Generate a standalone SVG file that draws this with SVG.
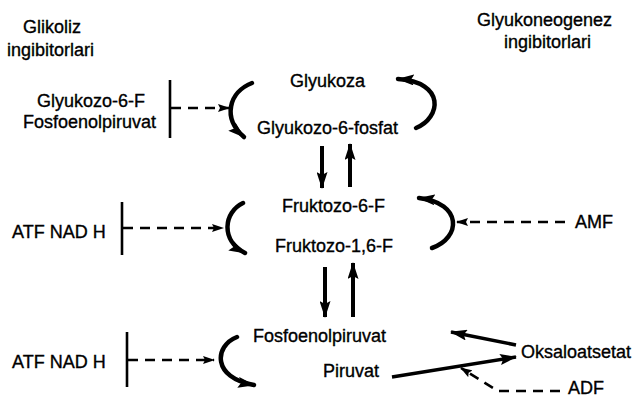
<svg xmlns="http://www.w3.org/2000/svg" width="643" height="398" viewBox="0 0 643 398">
<style>
text{font-family:"Liberation Sans",Arial,sans-serif;font-size:18px;fill:#000;stroke:#000;stroke-width:0.35}
.arc{fill:none;stroke:#000;stroke-width:4.5;stroke-linecap:round}
.v{fill:none;stroke:#000;stroke-width:4}
.d{fill:none;stroke:#000;stroke-width:2.6;stroke-dasharray:10 7}
.bar{fill:none;stroke:#000;stroke-width:2.6}
.s{fill:none;stroke:#000;stroke-width:3.5}
</style>
<defs>
<marker id="ah" markerUnits="userSpaceOnUse" markerWidth="18" markerHeight="11" refX="16" refY="5.5" orient="auto">
<path d="M0,0 L17,5.5 L0,11 L3,5.5 z" fill="#000"/>
</marker>
<marker id="ahs" markerUnits="userSpaceOnUse" markerWidth="12" markerHeight="8" refX="11" refY="4" orient="auto">
<path d="M0,0 L12,4 L0,8 L2,4 z" fill="#000"/>
</marker>
</defs>
<rect width="643" height="398" fill="#fff"/>
<g id="title-left"><text x="23" y="33">Glikoliz</text><text x="7" y="56">ingibitorlari</text></g>
<g id="title-right"><text x="477" y="26">Glyukoneogenez</text><text x="504" y="48">ingibitorlari</text></g>
<g id="glyukoza"><text x="290" y="87">Glyukoza</text></g>
<g id="glyukozo6fosfat"><text x="257" y="134">Glyukozo-6-fosfat</text></g>
<g id="fruktozo6f"><text x="282" y="212">Fruktozo-6-F</text></g>
<g id="fruktozo16f"><text x="275" y="252">Fruktozo-1,6-F</text></g>
<g id="fosfoenolpiruvat"><text x="253" y="342">Fosfoenolpiruvat</text></g>
<g id="piruvat"><text x="323" y="377">Piruvat</text></g>
<g id="oksaloatsetat"><text x="521" y="358">Oksaloatsetat</text></g>
<g id="inh1"><text x="37" y="107">Glyukozo-6-F</text><text x="23" y="128">Fosfoenolpiruvat</text></g>
<g id="inh2"><text x="12" y="238">ATF NAD H</text></g>
<g id="inh3"><text x="12" y="368">ATF NAD H</text></g>
<g id="amf"><text x="575" y="228">AMF</text></g>
<g id="adf"><text x="568" y="394">ADF</text></g>
<g id="connectors">
<path class="arc" d="M252 83 C229 92 222 118 244 137" marker-end="url(#ah)"/>
<path class="arc" d="M416 128 C441 118 446 82 398 79" marker-end="url(#ah)"/>
<path class="arc" d="M243 203 C224 212 220 240 245 253" marker-end="url(#ah)"/>
<path class="arc" d="M432 248 C461 238 463 203 419 198" marker-end="url(#ah)"/>
<path class="arc" d="M237 337 C214 346 212 378 254 385" marker-end="url(#ah)"/>
<path class="v" d="M322 146 L322 188" marker-end="url(#ah)"/>
<path class="v" d="M350 187 L350 144" marker-end="url(#ah)"/>
<path class="v" d="M325 267 L325 317" marker-end="url(#ah)"/>
<path class="v" d="M353 317 L353 263" marker-end="url(#ah)"/>
<path class="bar" d="M170 80 L170 138"/>
<path class="d" d="M171 108 L229 108" marker-end="url(#ahs)"/>
<path class="bar" d="M122 202 L122 255"/>
<path class="d" d="M123 228 L223 228" marker-end="url(#ahs)"/>
<path class="bar" d="M127 332 L127 387"/>
<path class="d" d="M128 360 L214 360" marker-end="url(#ahs)"/>
<path class="d" d="M565 222 L457 222" marker-end="url(#ahs)"/>
<path class="s" d="M516 345 L451 332" marker-end="url(#ah)"/>
<path class="s" d="M392 377 L516 357" marker-end="url(#ah)"/>
<path class="d" d="M560 391 L498 391 L461 368" marker-end="url(#ahs)"/>
</g>
</svg>
